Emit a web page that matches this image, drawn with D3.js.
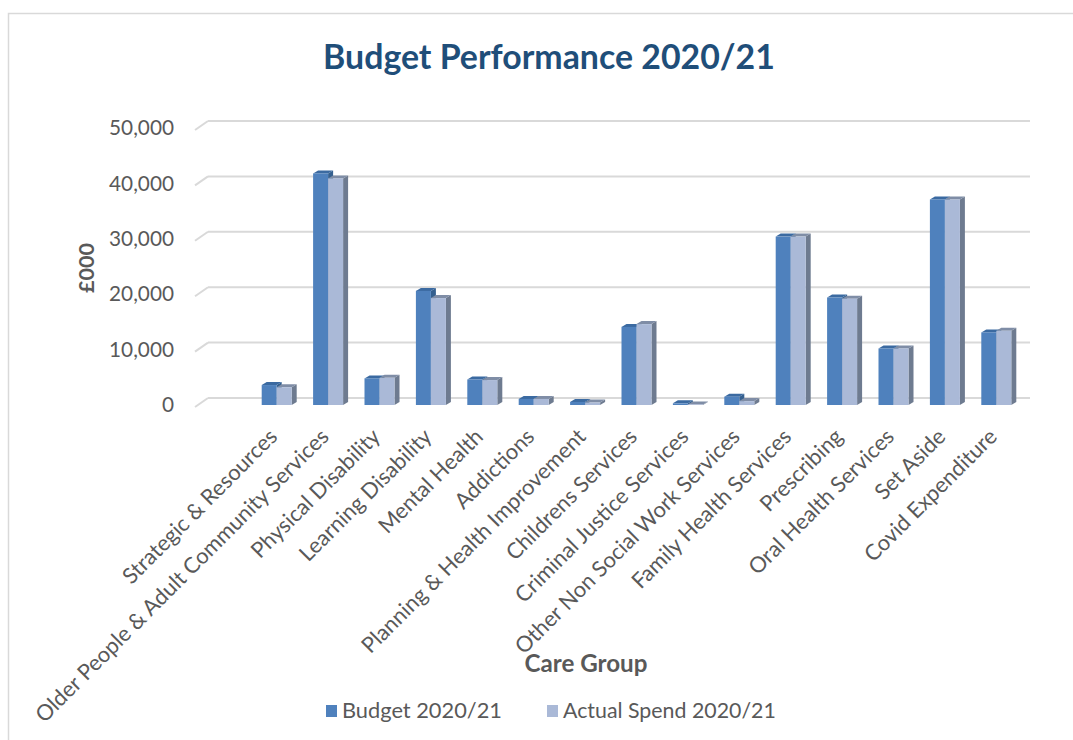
<!DOCTYPE html>
<html>
<head>
<meta charset="utf-8">
<script src="https://cdn.jsdelivr.net/npm/d3@7"></script>
<style>
  body { margin: 0; background: #fff; }
  svg { display: block; font-family: Lato, "Open Sans", sans-serif; }
</style>
</head>
<body>
<svg width="1073" height="740"></svg>
<script>
// care groups, left to right
var categories = [
    "Strategic & Resources",
    "Older People & Adult Community Services",
    "Physical Disability",
    "Learning Disability",
    "Mental Health",
    "Addictions",
    "Planning & Health Improvement",
    "Childrens Services",
    "Criminal Justice Services",
    "Other Non Social Work Services",
    "Family Health Services",
    "Prescribing",
    "Oral Health Services",
    "Set Aside",
    "Covid Expenditure"
];

// £000
var budget = [3600, 41800, 4800, 20600, 4600, 1100, 550, 14100, 300, 1500, 30400, 19400, 10200, 37100, 13100];
var actual = [3200, 40900, 4900, 19300, 4500, 1100, 450, 14600, 100, 700, 30400, 19200, 10200, 37100, 13400];

var seriesNames = ["Budget 2020/21", "Actual Spend 2020/21"];
var yTicks = [0, 10000, 20000, 30000, 40000, 50000];

var svg = d3.select("svg");

// sizes text so it spans a given width
function fitWidth(sel, target) {
    var base = 20;
    sel.style("font-size", base + "px");
    var w = sel.node().getComputedTextLength();
    sel.style("font-size", (base * target / w) + "px");
    return base * target / w;
}

// chart frame (right and bottom edges fall outside the picture)
svg.append("rect")
    .attr("x", 8.5).attr("y", 13.5)
    .attr("width", 1100).attr("height", 760)
    .attr("fill", "none")
    .attr("stroke", "#d9d9d9")
    .attr("stroke-width", 1.5);

var x = d3.scaleBand().domain(categories).range([251, 1022]);
var y = d3.scaleLinear().domain([0, 50000]).range([405, 128]);

var depthX = 13, depthY = 9;   // back wall offset
var barW = 15, topX = 5, topY = 3;   // bar faces

// gridlines on the back wall plus the floor diagonal on the left
var grid = svg.append("g").attr("class", "grid");
yTicks.forEach(function (t) {
    var yb = y(t) + 2 - depthY;
    grid.append("line")
        .attr("x1", 195 + depthX).attr("x2", 1030)
        .attr("y1", yb).attr("y2", yb)
        .attr("stroke", "#d9d9d9").attr("stroke-width", 2);
    grid.append("line")
        .attr("x1", 195).attr("y1", y(t) + 2)
        .attr("x2", 195 + depthX).attr("y2", yb)
        .attr("stroke", "#d9d9d9").attr("stroke-width", 2);
});

// y tick labels
var yAxis = svg.append("g")
    .attr("transform", "translate(174,0)")
    .call(d3.axisLeft(y).tickValues(yTicks).tickFormat(d3.format(",")).tickSize(0).tickPadding(0));
yAxis.select(".domain").remove();
yAxis.selectAll("text")
    .attr("fill", "#595959")
    .style("font-family", "Lato, sans-serif");
var tickSize = fitWidth(yAxis.selectAll("text").filter(function (d) { return d === 50000; }), 65);
yAxis.selectAll("text").style("font-size", tickSize + "px");

// 3D bars
var faces = [
    { front: "#4f81bd", top: "#3b6aa1", side: "#35608f" },
    { front: "#aab9d7", top: "#7f8da6", side: "#6e7b90" }
];

var bars = svg.append("g").attr("class", "bars");
categories.forEach(function (c, i) {
    [budget[i], actual[i]].forEach(function (v, s) {
        var x0 = x(c) + x.bandwidth() / 2 - barW + s * barW;
        var y0 = y(v), base = y(0);
        var g = bars.append("g");
        g.append("path")
            .attr("d", "M" + (x0 + barW) + "," + y0 + "L" + (x0 + barW + topX) + "," + (y0 - topY) +
                "L" + (x0 + barW + topX) + "," + (base - topY) + "L" + (x0 + barW) + "," + base + "Z")
            .attr("fill", faces[s].side);
        g.append("path")
            .attr("d", "M" + x0 + "," + y0 + "L" + (x0 + topX) + "," + (y0 - topY) +
                "L" + (x0 + barW + topX) + "," + (y0 - topY) + "L" + (x0 + barW) + "," + y0 + "Z")
            .attr("fill", faces[s].top);
        g.append("rect")
            .attr("x", x0).attr("y", y0)
            .attr("width", barW).attr("height", base - y0)
            .attr("fill", faces[s].front);
    });
});

// category labels, rotated
var labels = svg.append("g").attr("class", "x-labels");
labels.selectAll("text")
    .data(categories)
    .enter().append("text")
    .attr("transform", function (d) {
        return "translate(" + (x(d) + x.bandwidth() / 2 + 2) + ",438) rotate(-45)";
    })
    .attr("text-anchor", "end")
    .attr("fill", "#595959")
    .text(function (d) { return d; });
var labelSize = fitWidth(labels.selectAll("text").filter(function (d, i) { return i === 1; }), 404);
labels.selectAll("text").style("font-size", labelSize + "px");

// title
var title = svg.append("text")
    .attr("x", 549).attr("y", 69)
    .attr("text-anchor", "middle")
    .attr("fill", "#1f4e79")
    .attr("font-weight", "bold")
    .text("Budget Performance 2020/21");
fitWidth(title, 452);

// axis titles
var yTitle = svg.append("text")
    .attr("transform", "translate(94,268) rotate(-90)")
    .attr("text-anchor", "middle")
    .attr("fill", "#595959")
    .attr("font-weight", "bold")
    .text("£000");
fitWidth(yTitle, 50);

var xTitle = svg.append("text")
    .attr("x", 586).attr("y", 672)
    .attr("text-anchor", "middle")
    .attr("fill", "#595959")
    .attr("font-weight", "bold")
    .text("Care Group");
fitWidth(xTitle, 123);

// legend
var legendX = [326, 547];
var legendW = [160, 213];
var legend = svg.append("g").attr("class", "legend");
seriesNames.forEach(function (name, s) {
    legend.append("rect")
        .attr("x", legendX[s]).attr("y", 705)
        .attr("width", 11).attr("height", 12)
        .attr("fill", faces[s].front);
    var t = legend.append("text")
        .attr("x", legendX[s] + 16).attr("y", 718)
        .attr("fill", "#595959")
        .text(name);
    fitWidth(t, legendW[s]);
});
</script>
</body>
</html>
